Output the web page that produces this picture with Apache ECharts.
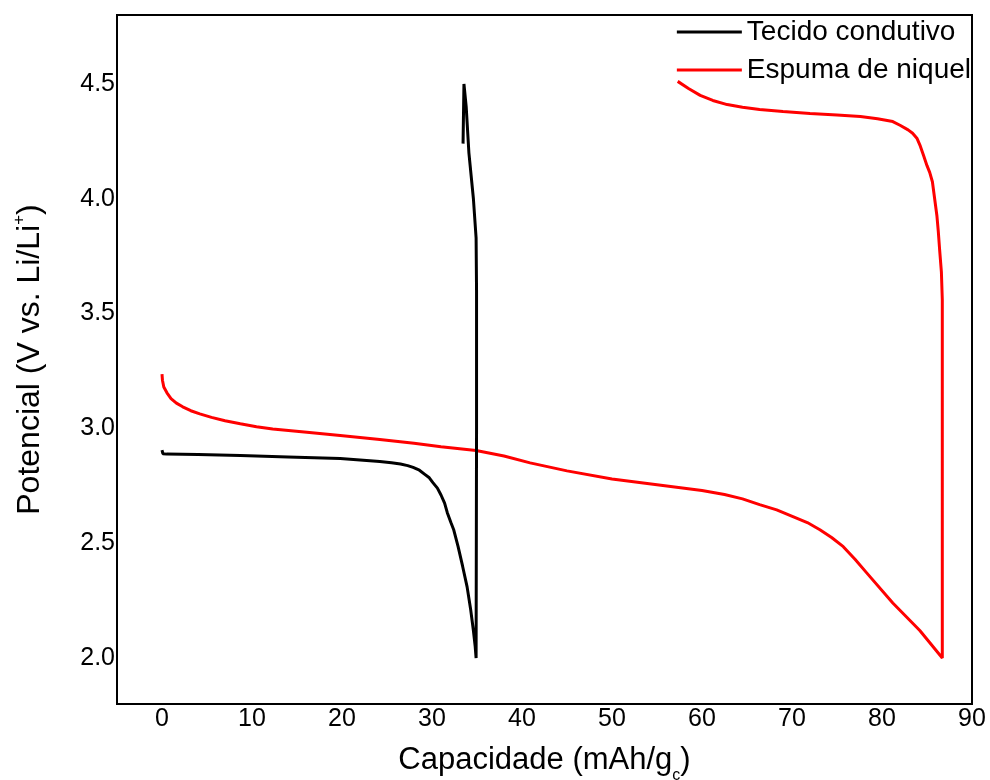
<!DOCTYPE html>
<html>
<head>
<meta charset="utf-8">
<script src="https://cdn.jsdelivr.net/npm/echarts@6/dist/echarts.min.js"></script>
<style>html,body{margin:0;padding:0;background:#fff}#c{width:990px;height:780px}</style>
</head>
<body>
<div id="c"></div>
<script>
// Tecido condutivo (black)
var tecidoX = [0, 0.1, 0.5, 4, 8.7, 14, 19.8, 24.2, 25.5, 26.5, 27.3, 27.9, 28.6, 29.2, 29.7, 30.1, 30.6, 31, 31.4, 31.7, 32.1, 32.4, 32.9, 33.4, 33.9, 34.3, 34.6, 34.8, 34.9, 34.95, 34.95, 34.9, 34.6, 34.1, 33.8, 33.55, 33.45];
var tecidoY = [2.905, 2.89, 2.888, 2.886, 2.882, 2.876, 2.869, 2.856, 2.85, 2.845, 2.838, 2.83, 2.818, 2.80, 2.785, 2.764, 2.74, 2.71, 2.675, 2.633, 2.59, 2.56, 2.485, 2.40, 2.31, 2.21, 2.12, 2.05, 2.0, 3.0, 3.6, 3.83, 4.0, 4.2, 4.4, 4.5, 4.24];
// Espuma de niquel (red)
var espumaX = [0, 0.05, 0.2, 0.55, 1.0, 1.6, 2.3, 3.2, 4.2, 5.5, 7, 8.7, 10.5, 12.3, 16.1, 19.8, 24.2, 28, 31, 34.9, 38, 40.9, 45, 50, 55, 60, 62.5, 64.5, 66.4, 68.3, 70.1, 71.7, 73.1, 74.4, 75.7, 77, 78.3, 81.2, 84.2, 86.7, 86.7, 86.7, 86.6, 86.4, 86.25, 86.1, 85.85, 85.6, 85.3, 85.0, 84.6, 84.25, 83.9, 83.4, 82.9, 82.0, 81.2, 79.5, 77.6, 75, 72, 69, 66.4, 64.5, 62.8, 61.2, 59.8, 58.5, 57.3];
var espumaY = [3.236, 3.21, 3.18, 3.155, 3.13, 3.11, 3.094, 3.077, 3.063, 3.048, 3.033, 3.02, 3.007, 2.997, 2.983, 2.969, 2.952, 2.935, 2.92, 2.904, 2.88, 2.85, 2.815, 2.78, 2.755, 2.73, 2.712, 2.693, 2.668, 2.645, 2.616, 2.59, 2.559, 2.525, 2.485, 2.43, 2.371, 2.24, 2.12, 2.0, 3.0, 3.56, 3.68, 3.78, 3.86, 3.926, 4.0, 4.074, 4.115, 4.144, 4.19, 4.23, 4.262, 4.285, 4.30, 4.32, 4.336, 4.348, 4.358, 4.365, 4.371, 4.38, 4.389, 4.398, 4.41, 4.428, 4.45, 4.48, 4.511];
var seriesNames = ['Tecido condutivo', 'Espuma de niquel'];

function zip(xs, ys){ return xs.map(function(x,i){ return [x, ys[i]]; }); }

var chart = echarts.init(document.getElementById('c'), null, {renderer:'canvas'});
var F = 'Liberation Sans, Arial, sans-serif';
chart.setOption({
  animation: false,
  backgroundColor: '#fff',
  textStyle: {fontFamily: F, color: '#000'},
  grid: {left: 117, right: 18, top: 15, bottom: 76, containLabel: false, outerBoundsMode: 'none',
         show: true, borderColor: '#000', borderWidth: 2, backgroundColor: 'transparent'},
  legend: {
    orient: 'vertical', right: 14, top: 13, itemWidth: 65, itemHeight: 3, itemGap: 10, icon: 'rect',
    textStyle: {fontFamily: F, fontSize: 28, color: '#000'},
    data: seriesNames
  },
  xAxis: {
    type: 'value', min: -5, max: 90, interval: 5,
    axisLine: {show: false}, axisTick: {show: false}, splitLine: {show: false},
    axisLabel: {fontFamily: F, fontSize: 25, color: '#000', margin: 3,
      formatter: function(v){ return (Math.abs(v % 10) < 1e-6) ? String(v) : ''; }},
    name: '{n|Capacidade (mAh/g}{sub|c}{n|)}', nameLocation: 'middle', nameGap: 38,
    nameTextStyle: {rich: {
      n: {fontFamily: F, fontSize: 31, color: '#000', lineHeight: 36},
      sub: {fontFamily: F, fontSize: 16, color: '#000', lineHeight: 36, verticalAlign: 'bottom', padding: [0,0,-6,0]}
    }}
  },
  yAxis: {
    type: 'value', min: 1.8, max: 4.8, interval: 0.1,
    axisLine: {show: false}, axisTick: {show: false}, splitLine: {show: false},
    axisLabel: {fontFamily: F, fontSize: 25, color: '#000', margin: 2,
      formatter: function(v){ var t = v*2; return (Math.abs(t - Math.round(t)) < 1e-6) ? v.toFixed(1) : ''; }},
    name: '{n|Potencial (V vs. Li/Li}{sup|+}{n|)}', nameLocation: 'middle', nameGap: 68, nameRotate: 90,
    nameTextStyle: {rich: {
      n: {fontFamily: F, fontSize: 32, color: '#000', lineHeight: 38},
      sup: {fontFamily: F, fontSize: 17, color: '#000', lineHeight: 38, verticalAlign: 'top', padding: [0,0,0,0]}
    }}
  },
  series: [
    {name: seriesNames[0], type: 'line', data: zip(tecidoX, tecidoY), symbol: 'none', showSymbol: false, color: '#000', lineStyle: {color: '#000', width: 3}, itemStyle: {color: '#000'}, z: 3},
    {name: seriesNames[1], type: 'line', data: zip(espumaX, espumaY), symbol: 'none', showSymbol: false, color: '#ff0000', lineStyle: {color: '#ff0000', width: 3}, itemStyle: {color: '#ff0000'}, z: 2}
  ]
});
</script>
</body>
</html>
